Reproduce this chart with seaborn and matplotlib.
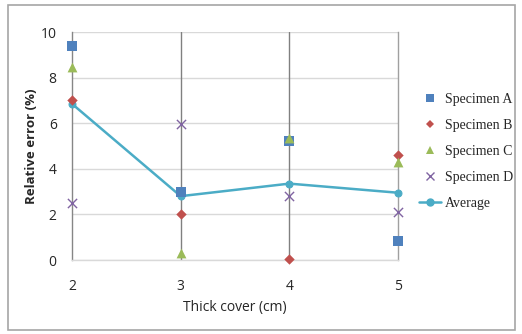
import pandas as pd
import numpy as np
import matplotlib
matplotlib.use("Agg")
import matplotlib.pyplot as plt
import seaborn as sns
from matplotlib.patches import Rectangle
from matplotlib.lines import Line2D

# values
cover = [2, 3, 4, 5]
spec_a = [9.4, 3.0, 5.2, 0.85]
spec_b = [7.0, 2.0, 0.05, 4.6]
spec_c = [8.45, 0.3, 5.35, 4.3]
spec_d = [2.5, 5.95, 2.8, 2.1]
average = [6.85, 2.8, 3.35, 2.95]

names = ["Specimen A", "Specimen B", "Specimen C", "Specimen D"]
colors = ["#4F81BD", "#C0504D", "#9BBB59", "#8064A2"]
markers = ["s", "D", "^", "x"]
sizes = [46, 28, 50, 44]

df = pd.DataFrame({
    "cover": cover * 4,
    "err": spec_a + spec_b + spec_c + spec_d,
    "series": np.repeat(names, len(cover)),
})
avg_df = pd.DataFrame({"cover": cover, "err": average})

sns.set_style("white")
fig = plt.figure(figsize=(5.22, 3.34), dpi=100)
ax = fig.add_axes([72 / 522, 1 - 260 / 334, (398 - 72) / 522, (260 - 32) / 334])

# outer chart border
fig.patches.append(Rectangle((8 / 522, 4 / 334), 507 / 522, 325 / 334,
                             transform=fig.transFigure, fill=False,
                             edgecolor="#A6A6A6", lw=1.2))

sns.lineplot(data=avg_df, x="cover", y="err", ax=ax, color="#4BACC6", lw=1.8,
             marker="o", markersize=5, markeredgecolor="#4BACC6", zorder=4,
             label="_nolegend_", clip_on=False)

for name, c, m, s in zip(names, colors, markers, sizes):
    sub = df[df["series"] == name]
    sns.scatterplot(data=sub, x="cover", y="err", ax=ax, color=c, marker=m, s=s,
                    linewidth=1 if m == "x" else 0, zorder=5, clip_on=False,
                    label="_nolegend_")

ax.set_xlim(2, 5)
ax.set_ylim(0, 10)
ax.set_xticks(cover)
ax.set_yticks(range(0, 11, 2))
ax.tick_params(axis="both", length=0, labelsize=10, colors="#262626")
ax.tick_params(axis="x", pad=14)
ax.tick_params(axis="y", pad=11)
for lab in ax.get_xticklabels() + ax.get_yticklabels():
    lab.set_family("Open Sans")

ax.grid(axis="y", color="#D9D9D9", lw=1)
for xv in [3, 4]:
    ax.axvline(xv, color="#808080", lw=1, zorder=1)
ax.spines["left"].set_color("#868686")
ax.spines["right"].set_color("#A0A0A0")
ax.spines["bottom"].set_color("#D9D9D9")
ax.spines["top"].set_visible(False)
for sp in ax.spines.values():
    sp.set_linewidth(1)

ax.set_xlabel("Thick cover (cm)", fontsize=10, family="Open Sans", labelpad=4)
ax.set_ylabel("Relative error (%)", fontsize=9.5, fontweight="bold",
              family="Open Sans", labelpad=2)

# legend
handles = [Line2D([], [], ls="none", marker=m, color=c,
                  markersize=6 if m != "D" else 4.5, markeredgewidth=1 if m == "x" else 0)
           for m, c in zip(markers, colors)]
handles.append(Line2D([], [], color="#4BACC6", lw=1.8, marker="o", markersize=5))
fig.legend(handles, names + ["Average"], loc="upper left",
           bbox_to_anchor=(406 / 522, 1 - 80 / 334), frameon=False,
           prop={"family": "Liberation Serif", "size": 10},
           handlelength=1.6, labelspacing=0.95, handletextpad=0.3)

fig.savefig("out.png", dpi=100)
